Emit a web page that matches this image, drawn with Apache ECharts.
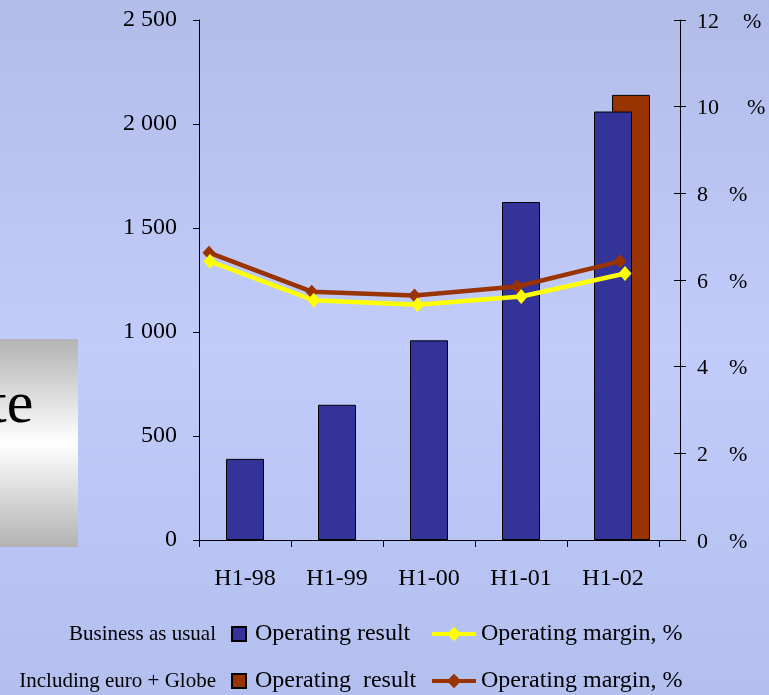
<!DOCTYPE html>
<html>
<head>
<meta charset="utf-8">
<script src="https://cdn.jsdelivr.net/npm/echarts@6/dist/echarts.min.js"></script>
<style>
  html, body { margin: 0; padding: 0; }
  body { background: linear-gradient(to bottom, #b1bce9 0%, #c1ccfb 50%, #b3bfee 100%); }
  #chart { width: 769px; height: 695px; }
</style>
</head>
<body>
<div id="chart"></div>
<script>
// Half-year periods
const categories = ['H1-98', 'H1-99', 'H1-00', 'H1-01', 'H1-02'];

// Operating result (left axis)
const resultUsual = [390, 650, 960, 1625, 2060];
const resultGlobe = [null, null, null, null, 2140];

// Operating margin, % (right axis)
const marginUsual = [6.43, 5.53, 5.43, 5.62, 6.15];
const marginGlobe = [6.63, 5.73, 5.64, 5.85, 6.43];

// Axis tick labels
const resultTickLabels = ['0', '500', '1 000', '1 500', '2 000', '2 500'];
const marginTickLabels = ['0', '2', '4', '6', '8', '10', '12'];

const SERIF = "'Liberation Serif', 'Times New Roman', serif";
const BLUE = '#333399';
const BROWN = '#993300';
const YELLOW = '#ffff00';

const chart = echarts.init(document.getElementById('chart'), null, { renderer: 'canvas' });

const hiddenCat = (gridIndex, showLine) => ({
  type: 'category', gridIndex, data: categories, boundaryGap: gridIndex < 2,
  axisLine: { show: !!showLine, lineStyle: { color: '#000', width: 1 } },
  axisTick: { show: false }, axisLabel: { show: false }, splitLine: { show: false }
});
const hiddenVal = (gridIndex, max) => ({
  type: 'value', gridIndex, min: 0, max, show: false, splitLine: { show: false }
});

const legendText = { color: '#000', fontSize: 24, fontFamily: SERIF };
const barLegendText = { color: '#000', fontSize: 24, fontFamily: SERIF, padding: [0, 0, 0, 4] };

const option = {
  backgroundColor: 'transparent',
  animation: false,
  textStyle: { fontFamily: SERIF },
  grid: [
    { left: 199, right: 110, top: 20, bottom: 155 },  // business-as-usual bars
    { left: 217, right: 92, top: 20, bottom: 155 },   // euro + Globe bar
    { left: 210, right: 144, top: 20, bottom: 155 },  // margin line, business as usual
    { left: 209, right: 149, top: 20, bottom: 155 }   // margin line, euro + Globe
  ],
  xAxis: [
    {
      type: 'category', gridIndex: 0, data: categories, boundaryGap: true,
      axisLine: { lineStyle: { color: '#000', width: 1 } },
      axisTick: { show: true, length: 7, lineStyle: { color: '#000' } },
      axisLabel: { color: '#000', fontSize: 24, fontFamily: SERIF, margin: 27 },
      splitLine: { show: false }
    },
    hiddenCat(1, true),
    hiddenCat(2),
    hiddenCat(3)
  ],
  yAxis: [
    {
      type: 'value', gridIndex: 0, min: 0, max: 2500, interval: 500, position: 'left',
      axisLine: { show: true, lineStyle: { color: '#000', width: 1 } },
      axisTick: { show: true, length: 6, lineStyle: { color: '#000' } },
      axisLabel: {
        color: '#000', fontSize: 24, fontFamily: SERIF, margin: 22,
        formatter: (v, i) => resultTickLabels[i]
      },
      splitLine: { show: false }
    },
    hiddenVal(1, 2500),
    {
      type: 'value', gridIndex: 2, min: 0, max: 12, interval: 2, position: 'right', offset: 55,
      axisLine: { show: true, lineStyle: { color: '#000', width: 1 } },
      axisTick: { show: true, length: 6, lineStyle: { color: '#000' } },
      axisLabel: {
        color: '#000', fontSize: 22, fontFamily: SERIF, margin: 17,
        formatter: (v, i) => {
          const t = marginTickLabels[i];
          const cls = t === '12' ? 'a' : (t === '10' ? 'b' : 'c');
          return '{n|' + t + '}{' + cls + '|%}';
        },
        rich: {
          n: { fontSize: 22, fontFamily: SERIF, color: '#000', padding: [4, 0, 0, 0] },
          a: { fontSize: 22, fontFamily: SERIF, color: '#000', padding: [4, 0, 0, 24] },
          b: { fontSize: 22, fontFamily: SERIF, color: '#000', padding: [4, 0, 0, 28] },
          c: { fontSize: 22, fontFamily: SERIF, color: '#000', padding: [4, 0, 0, 21] }
        }
      },
      splitLine: { show: false }
    },
    // inner half of the right-axis ticks
    {
      type: 'value', gridIndex: 2, min: 0, max: 12, interval: 2, position: 'right', offset: 55,
      axisLine: { show: false },
      axisTick: { show: true, inside: true, length: 6, lineStyle: { color: '#000' } },
      axisLabel: { show: false },
      splitLine: { show: false }
    },
    hiddenVal(3, 12)
  ],
  legend: [
    {
      data: [{ name: 'Operating result', icon: 'rect' }], left: 231, top: 622, padding: 0,
      itemWidth: 14, itemHeight: 14, selectedMode: false,
      textStyle: barLegendText
    },
    {
      data: [{ name: 'Operating margin, %', lineStyle: { width: 4, color: YELLOW } }],
      left: 430, top: 622, padding: 0,
      itemWidth: 44, itemHeight: 18, selectedMode: false,
      textStyle: legendText
    },
    {
      data: [{ name: 'Operating result, euro + Globe', icon: 'rect' }], left: 231, top: 669, padding: 0,
      itemWidth: 14, itemHeight: 14, selectedMode: false,
      formatter: () => 'Operating  result',
      textStyle: barLegendText
    },
    {
      data: [{ name: 'Operating margin, %, euro + Globe', lineStyle: { width: 4, color: BROWN } }],
      left: 430, top: 669, padding: 0,
      itemWidth: 44, itemHeight: 18, selectedMode: false,
      formatter: () => 'Operating margin, %',
      textStyle: legendText
    }
  ],
  graphic: [
    {
      type: 'rect', left: 0, top: 339, z: 0,
      shape: { width: 78, height: 208 },
      style: {
        fill: new echarts.graphic.LinearGradient(0, 0, 0, 1, [
          { offset: 0, color: '#b3b3b3' },
          { offset: 0.5, color: '#ffffff' },
          { offset: 1, color: '#b3b3b3' }
        ])
      }
    },
    {
      type: 'text', x: -10, y: 406, z: 1,
      style: { text: 'te', font: '60px ' + SERIF, fill: '#000', verticalAlign: 'middle', align: 'left' }
    },
    {
      type: 'text', x: 216, y: 634,
      style: { text: 'Business as usual', font: '21px ' + SERIF, fill: '#000', align: 'right', verticalAlign: 'middle' }
    },
    {
      type: 'text', x: 216, y: 681,
      style: { text: 'Including euro + Globe', font: '21px ' + SERIF, fill: '#000', align: 'right', verticalAlign: 'middle' }
    }
  ],
  series: [
    {
      name: 'Operating result, euro + Globe', type: 'bar', xAxisIndex: 1, yAxisIndex: 1,
      data: resultGlobe, barWidth: 38,
      itemStyle: { color: BROWN, borderColor: '#000', borderWidth: 1 }
    },
    {
      name: 'Operating result', type: 'bar', xAxisIndex: 0, yAxisIndex: 0,
      data: resultUsual, barWidth: 38,
      itemStyle: { color: BLUE, borderColor: '#000', borderWidth: 1 }
    },
    {
      name: 'Operating margin, %, euro + Globe', type: 'line', xAxisIndex: 3, yAxisIndex: 4,
      data: marginGlobe, symbol: 'diamond', symbolSize: [13, 14],
      itemStyle: { color: BROWN }, lineStyle: { color: BROWN, width: 4.5 }
    },
    {
      name: 'Operating margin, %', type: 'line', xAxisIndex: 2, yAxisIndex: 2,
      data: marginUsual, symbol: 'diamond', symbolSize: [13, 15],
      itemStyle: { color: YELLOW }, lineStyle: { color: YELLOW, width: 4.5 }
    }
  ]
};

chart.setOption(option);
</script>
</body>
</html>
